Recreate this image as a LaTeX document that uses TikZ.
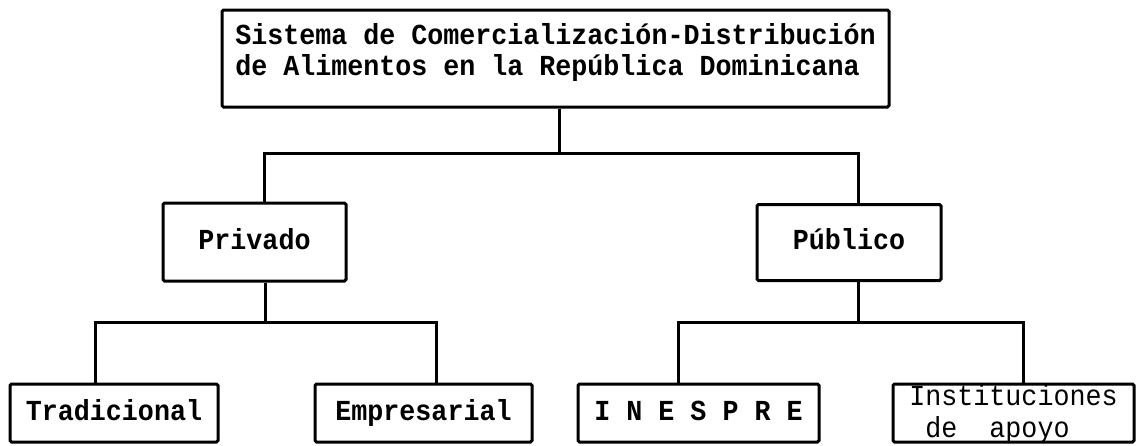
\documentclass[tikz,border=0pt]{standalone}
\usepackage{fontspec}
\newfontfamily\tw[FakeStretch=0.92,BoldFont={Liberation Mono Bold}]{Liberation Mono}
\newcommand\bxt[2][0pt]{\makebox[0pt]{\raisebox{#1}[0pt][0pt]{\begin{tabular}{@{}l@{}}#2\end{tabular}}}}
\begin{document}
\begin{tikzpicture}[x=1pt,y=-1pt,
  box/.style={draw, line width=3pt, inner sep=0pt, rounded corners=1.5pt,
    font=\tw\bfseries\fontsize{29}{31}\selectfont},
  lbl/.style={text height=14pt, text depth=0pt},
  conn/.style={draw, line width=3pt, line join=miter}]
\fill[white] (0,0) rectangle (1136,445);
\useasboundingbox (0,0) rectangle (1136,445);

\node[box, minimum width=667pt, minimum height=97pt] (top) at (555.5,58.5)
  {\bxt[-2pt]{Sistema de Comercialización-Distribución\\de Alimentos en la República Dominicana}};

\node[box, lbl, minimum width=183pt, minimum height=78pt] (priv) at (254.5,242) {Privado};
\node[box, lbl, minimum width=184pt, minimum height=76pt] (pub) at (849,242.5) {Público};

\node[box, lbl, minimum width=208pt, minimum height=58pt] (trad) at (114,413) {Tradicional};
\node[box, lbl, minimum width=217pt, minimum height=58pt] (emp) at (423.5,413) {Empresarial};
\node[box, lbl, minimum width=241pt, minimum height=58pt] (ines) at (698.5,413) {I N E S P R E};
\node[box, minimum width=241pt, minimum height=58pt,
  font=\tw\fontsize{29}{32}\selectfont] (inst) at (1013.5,413)
  {\bxt[-8pt]{Instituciones\\\ de\ \ apoyo}};

\coordinate (j1) at (559,153);
\coordinate (p1) at (264,153);
\coordinate (q1) at (858,153);
\coordinate (p2) at (265,322);
\coordinate (t1) at (95,322);
\coordinate (e1) at (436,322);
\coordinate (q2) at (858,322);
\coordinate (i1) at (678,322);
\coordinate (s1) at (1023,322);

\path[conn] (top.south -| j1) -- (j1);
\path[conn] (priv.north -| p1) -- (p1) -- (q1) -- (pub.north -| q1);
\path[conn] (priv.south -| p2) -- (p2);
\path[conn] (trad.north -| t1) -- (t1) -- (e1) -- (emp.north -| e1);
\path[conn] (pub.south -| q2) -- (q2);
\path[conn] (ines.north -| i1) -- (i1) -- (s1) -- (inst.north -| s1);
\end{tikzpicture}
\end{document}
